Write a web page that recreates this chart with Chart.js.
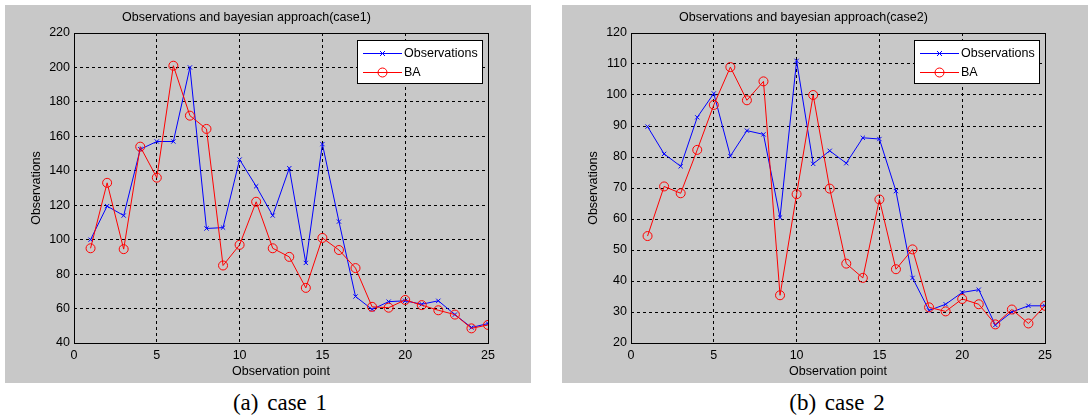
<!DOCTYPE html>
<html><head><meta charset="utf-8">
<script src="https://cdn.jsdelivr.net/npm/chart.js@4/dist/chart.umd.min.js"></script>
<style>
html,body{margin:0;padding:0;background:#fff;width:1088px;height:415px;overflow:hidden}
.panel{position:absolute;top:5px;width:526px;height:378px;background:#c8c8c8}
#p1{left:5px}
#p2{left:562px}
canvas{display:block}
.cap{position:absolute;top:389px;transform:translateX(-50%);font-family:'Liberation Serif','DejaVu Serif',serif;font-size:23px;line-height:27px;word-spacing:3px;white-space:nowrap;color:#000}
#cap1{left:280px}
#cap2{left:837px}
</style></head>
<body>
<div class="panel" id="p1"><canvas id="c1" width="526" height="378"></canvas></div>
<div class="panel" id="p2"><canvas id="c2" width="526" height="378"></canvas></div>
<div class="cap" id="cap1">(a) case 1</div>
<div class="cap" id="cap2">(b) case 2</div>
<script>
// ---- data ----
const points = [1,2,3,4,5,6,7,8,9,10,11,12,13,14,15,16,17,18,19,20,21,22,23,24,25];
const obsCase1 = [100,119.5,114,152.5,157,157,200,106.5,107,146.5,131,114,141.5,86.5,155.5,110.5,67,59.5,64,64.5,62.5,64.5,56.5,49,51.3];
const baCase1  = [95,133,94.5,154,136,201,172,164.3,85,97,122,95,90,72,101,94,83.5,61,60.5,65,62,59,56.5,48.5,50.5];
const obsCase2 = [89.8,81,77,92.8,100.5,80.3,88.5,87.3,60.5,111,77.8,82,78,86.2,85.8,69,41,30.5,32.5,36.3,37.2,25.8,30,32,32];
const baCase2  = [54.5,70.5,68.3,82.3,96.8,109,98.3,104.4,35.4,68,100,69.8,45.6,41,66.3,43.8,50.2,31.5,30.2,34.2,32.5,26,30.8,26.3,32];
const xTicks = [0,5,10,15,20,25];
const yTicksCase1 = [40,60,80,100,120,140,160,180,200,220];
const yTicksCase2 = [20,30,40,50,60,70,80,90,100,110,120];
const titles = ['Observations and bayesian approach(case1)','Observations and bayesian approach(case2)'];
const seriesNames = ['Observations','BA'];
const xLabel = 'Observation point';
const yLabel = 'Observations';

const FONT = "'Liberation Sans',Arial,Helvetica,sans-serif";
const FS = 12.5;

function markerPath(ctx, style, x, y, r){
  ctx.beginPath();
  if(style==='circle'){ ctx.arc(x,y,r,0,Math.PI*2); }
  else { ctx.moveTo(x-r,y-r); ctx.lineTo(x+r,y+r); ctx.moveTo(x+r,y-r); ctx.lineTo(x-r,y+r); }
  ctx.stroke();
}

const boxPlugin = {
  id:'matlabBox',
  afterDraw(chart){
    const {ctx, chartArea:a} = chart;
    ctx.save();
    ctx.strokeStyle='#000'; ctx.lineWidth=1; ctx.setLineDash([]);
    ctx.strokeRect(Math.round(a.left)+0.5, Math.round(a.top)+0.5, Math.round(a.right-a.left), Math.round(a.bottom-a.top));
    // legend
    const w=125,h=43;
    const x=Math.round(a.right)-6-w, y=Math.round(a.top)+7;
    ctx.fillStyle='#fff'; ctx.fillRect(x,y,w,h);
    ctx.strokeRect(x+0.5,y+0.5,w,h);
    chart.data.datasets.slice().sort((p,q)=>p.legendIndex-q.legendIndex).forEach((ds,i)=>{
      const ry=y+13+i*18.5;
      ctx.strokeStyle=ds.borderColor; ctx.lineWidth=1;
      ctx.beginPath(); ctx.moveTo(x+6,Math.round(ry)+0.5); ctx.lineTo(x+45,Math.round(ry)+0.5); ctx.stroke();
      markerPath(ctx, ds.pointStyle==='circle'?'circle':'cross', x+25.5, Math.round(ry)+0.5, ds.pointStyle==='circle'?4.5:2.5);
      ctx.fillStyle='#000'; ctx.font=FS+'px '+FONT; ctx.textBaseline='middle'; ctx.textAlign='left';
      ctx.fillText(ds.label, x+47, ry+1);
    });
    ctx.restore();
  }
};

function makeChart(id, title, obs, ba, yTicks){
  const yMin=yTicks[0], yMax=yTicks[yTicks.length-1];
  const lh = FS*1.2;
  return new Chart(document.getElementById(id), {
    type:'line',
    data:{
      datasets:[
        {label:seriesNames[1], legendIndex:1, order:0, data:points.map((p,i)=>({x:p,y:ba[i]})), borderColor:'#f00', backgroundColor:'rgba(0,0,0,0)', borderWidth:1, pointStyle:'circle', pointRadius:4.5, pointBorderWidth:1, pointBorderColor:'#f00', pointBackgroundColor:'rgba(0,0,0,0)', tension:0},
        {label:seriesNames[0], legendIndex:0, order:1, data:points.map((p,i)=>({x:p,y:obs[i]})), borderColor:'#00f', backgroundColor:'rgba(0,0,0,0)', borderWidth:1, pointStyle:'crossRot', pointRadius:3, pointBorderWidth:1, pointBorderColor:'#00f', tension:0}
      ]
    },
    options:{
      responsive:false, animation:false, devicePixelRatio:1,
      layout:{padding:{left:0,right:43,top:0,bottom:0}},
      plugins:{
        legend:{display:false}, tooltip:{enabled:false},
        title:{display:true, text:title, color:'#000', font:{family:FONT,size:FS,weight:'normal'}, padding:{top:13-lh/2,bottom:28-13-lh/2}}
      },
      scales:{
        x:{type:'linear', min:xTicks[0], max:xTicks[xTicks.length-1],
           afterBuildTicks(s){ s.ticks = xTicks.map(v=>({value:v})); },
           afterFit(s){ s.height=40; },
           ticks:{color:'#000', font:{family:FONT,size:FS}, padding:5, maxRotation:0},
           grid:{color:'#000', lineWidth:1, drawTicks:false},
           border:{display:false, dash:[3,3]},
           title:{display:true, text:xLabel, color:'#000', font:{family:FONT,size:FS}, padding:{top:0,bottom:11-lh/2}}
        },
        y:{type:'linear', min:yMin, max:yMax,
           afterBuildTicks(s){ s.ticks = yTicks.map(v=>({value:v})); },
           afterFit(s){ s.width=69; },
           ticks:{color:'#000', font:{family:FONT,size:FS}, padding:4},
           grid:{color:'#000', lineWidth:1, drawTicks:false},
           border:{display:false, dash:[3,3]},
           title:{display:true, text:yLabel, color:'#000', font:{family:FONT,size:FS}, padding:{top:32-lh/2,bottom:0}}
        }
      }
    },
    plugins:[boxPlugin]
  });
}
makeChart('c1', titles[0], obsCase1, baCase1, yTicksCase1);
makeChart('c2', titles[1], obsCase2, baCase2, yTicksCase2);
</script>
</body></html>
